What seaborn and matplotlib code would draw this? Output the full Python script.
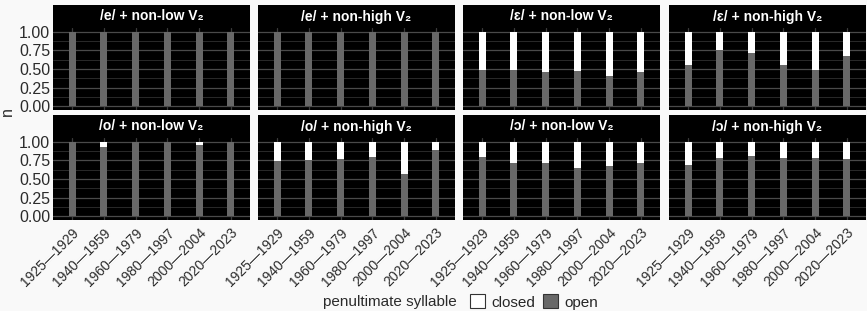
import matplotlib
matplotlib.use("Agg")
import matplotlib.pyplot as plt
import matplotlib.patches as mpatches
import seaborn as sns
import pandas as pd
import numpy as np

sns.set_style("white")
plt.rcParams['font.family'] = ['Liberation Sans', 'DejaVu Sans']

periods = ["1925—1929", "1940—1959", "1960—1979", "1980—1997", "2000—2004", "2020—2023"]
panel_titles = ["/e/ + non-low V₂", "/e/ + non-high V₂", "/ɛ/ + non-low V₂", "/ɛ/ + non-high V₂",
                "/o/ + non-low V₂", "/o/ + non-high V₂", "/ɔ/ + non-low V₂", "/ɔ/ + non-high V₂"]
# proportion of open penultimate syllables (remainder = closed)
open_e_nonlow = [1.00, 1.00, 1.00, 1.00, 1.00, 1.00]
open_e_nonhigh = [1.00, 1.00, 1.00, 1.00, 1.00, 1.00]
open_E_nonlow = [0.48, 0.48, 0.46, 0.47, 0.41, 0.46]
open_E_nonhigh = [0.56, 0.75, 0.72, 0.55, 0.48, 0.68]
open_o_nonlow = [1.00, 0.93, 1.00, 1.00, 0.96, 1.00]
open_o_nonhigh = [0.74, 0.75, 0.77, 0.80, 0.57, 0.89]
open_O_nonlow = [0.79, 0.72, 0.72, 0.65, 0.67, 0.72]
open_O_nonhigh = [0.69, 0.78, 0.81, 0.78, 0.78, 0.77]
open_values = [open_e_nonlow, open_e_nonhigh, open_E_nonlow, open_E_nonhigh,
               open_o_nonlow, open_o_nonhigh, open_O_nonlow, open_O_nonhigh]
legend_title = "penultimate syllable"
legend_labels = ["closed", "open"]

W, H = 867, 311
bg = "#f9f9f9"
fig = plt.figure(figsize=(W / 100, H / 100), dpi=100, facecolor=bg)

col_left = [53, 258, 463, 669]
panel_w = 197
row_top = [28, 138]
panel_h = 82
strip_h = 23

grey_open = "#686868"
txt_col = "#2b2b2b"
for i, (title, vals) in enumerate(zip(panel_titles, open_values)):
    r, c = divmod(i, 4)
    x0 = col_left[c]
    y0 = row_top[r]
    ax = fig.add_axes([x0 / W, 1 - (y0 + panel_h) / H, panel_w / W, panel_h / H])
    ax.set_facecolor("black")
    df = pd.DataFrame({"period": periods, "open": vals, "total": [1.0] * len(vals)})
    sns.barplot(data=df, x="period", y="total", order=periods, color="white",
                width=0.22, ax=ax, saturation=1, edgecolor="none")
    sns.barplot(data=df, x="period", y="open", order=periods, color=grey_open,
                width=0.22, ax=ax, saturation=1, edgecolor="none")
    ax.set_xlim(-0.6, 5.6)
    ax.set_ylim(-0.05, 1.05)
    ax.set_yticks([0, 0.25, 0.5, 0.75, 1.0])
    ax.set_yticks([0.125, 0.375, 0.625, 0.875], minor=True)
    ax.grid(True, which="major", axis="y", color="#4a4a4a", lw=0.9)
    ax.grid(True, which="minor", axis="y", color="#303030", lw=0.6)
    ax.grid(True, which="major", axis="x", color="#3a3a3a", lw=0.9)
    ax.set_axisbelow(True)
    for s in ax.spines.values():
        s.set_visible(False)
    ax.set_xlabel("")
    ax.set_ylabel("")
    ax.tick_params(axis="both", length=0, colors=txt_col)
    if c == 0:
        ax.set_yticklabels(["0.00", "0.25", "0.50", "0.75", "1.00"], fontsize=11.5, color=txt_col)
    else:
        ax.set_yticklabels([])
    ax.tick_params(axis="y", pad=2)
    if r == 1:
        ax.set_xticks(range(len(periods)))
        ax.set_xticklabels(periods, rotation=45, ha="right", rotation_mode="anchor",
                           fontsize=10, color=txt_col)
    else:
        ax.set_xticklabels([])
    ax.tick_params(axis="x", pad=4)
    # strip
    strip = mpatches.Rectangle((0, 1), 1, strip_h / panel_h, transform=ax.transAxes,
                               facecolor="black", edgecolor="none", clip_on=False)
    ax.add_patch(strip)
    ax.text(0.5, 1 + strip_h / panel_h / 2, title, transform=ax.transAxes,
            ha="center", va="center", color="white", fontsize=10, fontweight="bold")

fig.text(7 / W, 1 - 112 / H, "n", rotation=90, ha="center", va="center",
         fontsize=11.5, color=txt_col)

fig.text(323 / W, 1 - 302 / H, legend_title, ha="left", va="center", fontsize=11, color=txt_col)
handles = [mpatches.Patch(facecolor="white", edgecolor="#333333", lw=0.8),
           mpatches.Patch(facecolor=grey_open, edgecolor="#333333", lw=0.8)]
fig.legend(handles, legend_labels, loc="center left", bbox_to_anchor=(470 / W, 1 - 302 / H),
           ncol=2, frameon=False, fontsize=11, handlelength=1.0, handleheight=1.0,
           handletextpad=0.4, columnspacing=0.5, borderpad=0, borderaxespad=0)

fig.savefig("out.png", dpi=100, facecolor=bg)
